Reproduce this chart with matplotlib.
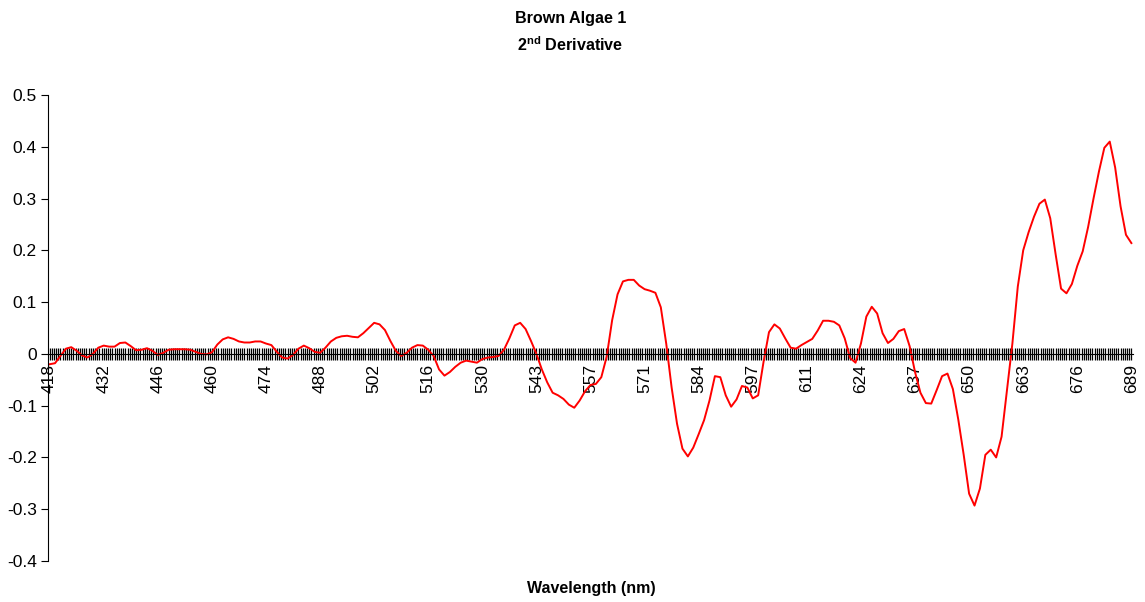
import matplotlib.pyplot as plt

plt.rcParams['font.family'] = ['Liberation Sans', 'DejaVu Sans']
plt.rcParams['mathtext.fontset'] = 'custom'
plt.rcParams['mathtext.rm'] = 'Liberation Sans'
plt.rcParams['mathtext.bf'] = 'Liberation Sans:bold'

# wavelength labels shown every 10 data points
wl_labels = ['418', '432', '446', '460', '474', '488', '502', '516', '530', '543', '557',
             '571', '584', '597', '611', '624', '637', '650', '663', '676', '689']

# 2nd derivative values
deriv = [
    -0.020, -0.018, -0.004, 0.010, 0.013, 0.006, -0.003, -0.007, 0.000, 0.012,
    0.016, 0.014, 0.014, 0.021, 0.022, 0.015, 0.007, 0.008, 0.011, 0.006,
    -0.002, 0.002, 0.008, 0.009, 0.009, 0.009, 0.008, 0.004, 0.000, -0.001,
    0.003, 0.018, 0.028, 0.032, 0.029, 0.024, 0.022, 0.022, 0.024, 0.024,
    0.020, 0.017, 0.004, -0.007, -0.009, -0.002, 0.010, 0.016, 0.011, 0.004,
    0.002, 0.012, 0.024, 0.031, 0.034, 0.035, 0.033, 0.032, 0.040, 0.050,
    0.060, 0.057, 0.046, 0.025, 0.006, -0.004, 0.002, 0.012, 0.017, 0.016,
    0.008, -0.004, -0.030, -0.042, -0.035, -0.025, -0.017, -0.013, -0.015, -0.017,
    -0.010, -0.007, -0.006, -0.004, 0.008, 0.030, 0.055, 0.060, 0.048, 0.025,
    0.000, -0.030, -0.055, -0.075, -0.080, -0.087, -0.098, -0.104, -0.090, -0.072,
    -0.060, -0.058, -0.045, -0.005, 0.065, 0.115, 0.140, 0.143, 0.143, 0.132,
    0.125, 0.122, 0.118, 0.090, 0.020, -0.065, -0.135, -0.183, -0.198, -0.181,
    -0.155, -0.128, -0.090, -0.043, -0.045, -0.080, -0.102, -0.088, -0.062, -0.065,
    -0.086, -0.080, -0.015, 0.042, 0.057, 0.049, 0.030, 0.012, 0.010, 0.017,
    0.023, 0.029, 0.045, 0.064, 0.064, 0.062, 0.055, 0.030, -0.008, -0.017,
    0.020, 0.072, 0.091, 0.078, 0.040, 0.021, 0.029, 0.044, 0.048, 0.015,
    -0.035, -0.075, -0.095, -0.096, -0.070, -0.043, -0.038, -0.068, -0.127, -0.195,
    -0.270, -0.293, -0.260, -0.195, -0.185, -0.200, -0.160, -0.070, 0.020, 0.130,
    0.200, 0.235, 0.265, 0.290, 0.298, 0.262, 0.192, 0.126, 0.117, 0.135,
    0.170, 0.198, 0.245, 0.300, 0.352, 0.398, 0.410, 0.360, 0.285, 0.230,
    0.214,
]

y_ticks = [-0.4, -0.3, -0.2, -0.1, 0, 0.1, 0.2, 0.3, 0.4, 0.5]

fig = plt.figure(figsize=(11.45, 6.02), dpi=100)
ax = fig.add_axes([48 / 1145, 1 - 561 / 602, (1133 - 48) / 1145, (561 - 95) / 602])

ax.plot(range(len(deriv)), deriv, color='#ff0000', linewidth=1.4)

ax.set_ylim(-0.4, 0.5)
ax.set_xlim(-0.3, len(deriv) - 1 + 0.3)
ax.set_yticks(y_ticks)
ax.set_yticklabels(['{:g}'.format(v) for v in y_ticks], fontsize=12.5)
ax.tick_params(axis='y', direction='out', length=5, width=0.8, pad=3)

ax.spines['top'].set_visible(False)
ax.spines['right'].set_visible(False)
ax.spines['bottom'].set_position(('data', 0))

ax.set_xticks(range(0, len(deriv), 10))
ax.set_xticklabels(wl_labels, rotation=90, fontsize=12.5)
ax.set_xticks([i * 0.4 for i in range(int((len(deriv) - 1) / 0.4) + 1)], minor=True)
ax.tick_params(axis='x', which='both', direction='inout', length=9, width=0.9, pad=3)

fig.text(0.498, 0.970, 'Brown Algae 1', ha='center', va='center', fontsize=11.6, fontweight='bold')
fig.text(0.498, 0.926, r'$\mathbf{2^{nd}}$ Derivative', ha='center', va='center',
         fontsize=11.6, fontweight='bold')
fig.text(0.516, 0.022, 'Wavelength (nm)', ha='center', va='center', fontsize=11.5, fontweight='bold')

fig.savefig('out.png', dpi=100)
